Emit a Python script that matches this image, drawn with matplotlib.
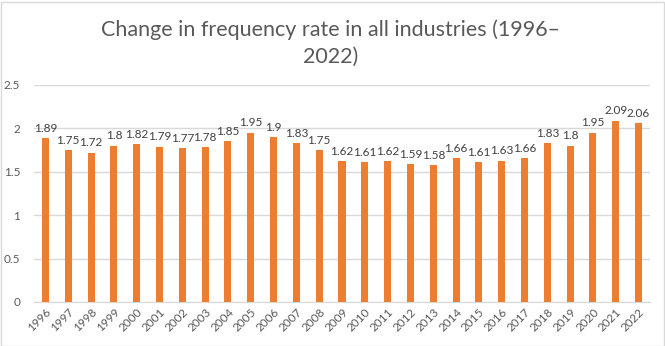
import matplotlib
matplotlib.use("Agg")
import matplotlib.pyplot as plt
from matplotlib.patches import Rectangle

years = [str(y) for y in range(1996, 2023)]
values = [1.89, 1.75, 1.72, 1.8, 1.82, 1.79, 1.77, 1.78, 1.85, 1.95, 1.9, 1.83, 1.75,
          1.62, 1.61, 1.62, 1.59, 1.58, 1.66, 1.61, 1.63, 1.66, 1.83, 1.8, 1.95, 2.09, 2.06]
yticks = [0, 0.5, 1, 1.5, 2, 2.5]
title = "Change in frequency rate in all industries (1996–\n2022)"

plt.rcParams['font.family'] = ['Lato', 'DejaVu Sans']

fig = plt.figure(figsize=(6.65, 3.46), dpi=100)
ax = fig.add_axes([34/665, 1 - 302/346, 616/665, (302 - 85)/346])

x = list(range(len(years)))
bars = ax.bar(x, values, width=0.31, color='#ED7D31', zorder=3)
for xi, v in zip(x, values):
    ax.text(xi, v + 0.05, f"{v:g}", ha='center', va='bottom', fontsize=8.5, color='#404040')

ax.set_xlim(-0.5, len(years) - 0.5)
ax.set_ylim(0, 2.5)
ax.set_yticks(yticks)
ax.set_yticklabels([f"{t:g}" for t in yticks], fontsize=8.5, color='#595959')
ax.set_xticks(x)
ax.set_xticklabels(years, rotation=45, ha='right', rotation_mode='anchor', fontsize=8.5, color='#595959')
ax.tick_params(axis='both', length=0)
ax.tick_params(axis='y', pad=10)
ax.tick_params(axis='x', pad=3)
ax.grid(axis='y', color='#D9D9D9', linewidth=1, zorder=0)
for s in ['top', 'right', 'left']:
    ax.spines[s].set_visible(False)
ax.spines['bottom'].set_color('#D9D9D9')

fig.text(0.497, 1 - 43/346, title, ha='center', va='center', fontsize=15.5, color='#595959',
         linespacing=1.45)

fig.patches.append(Rectangle((0.5/665, 0.5/346), 663/665, 344/346, transform=fig.transFigure,
                             fill=False, edgecolor='#D9D9D9', linewidth=1))

fig.savefig("out.png", dpi=100)
